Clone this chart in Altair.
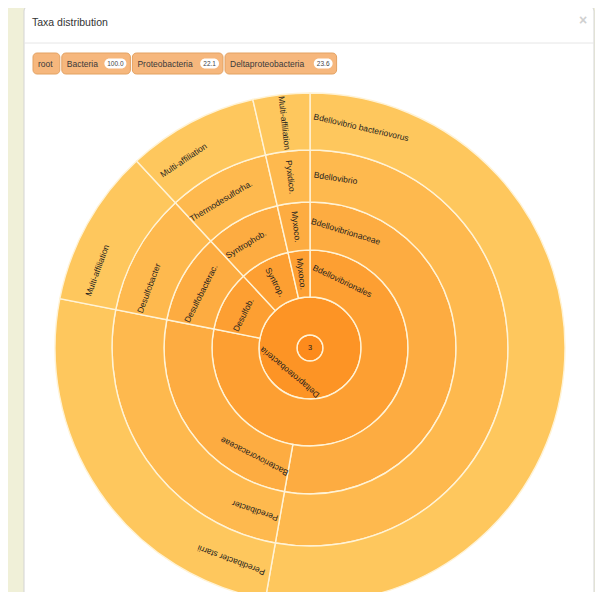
import math
import altair as alt
import pandas as pd

# ---------------- data ----------------
# share (%) of each leaf of the Deltaproteobacteria sub-tree
leaf_share = [52.8, 25.3, 10.0, 8.3, 3.6]
rank_class = ["Deltaproteobacteria"] * 5
rank_order = ["Bdellovibrionales", "Bdellovibrionales", "Desulfobacterales",
              "Syntrophobacterales", "Myxococcales"]
rank_family = ["Bdellovibrionaceae", "Bacteriovoracaceae", "Desulfobacteraceae",
               "Syntrophobacteraceae", "Myxococcaceae"]
rank_genus = ["Bdellovibrio", "Peredibacter", "Desulfobacter",
              "Thermodesulforhabdus", "Pyxidicoccus"]
rank_species = ["Bdellovibrio bacteriovorus", "Peredibacter starrii",
                "Multi-affiliation", "Multi-affiliation", "Multi-affiliation"]
short_names = {
    "Desulfobacterales": "Desulfob.",
    "Desulfobacteraceae": "Desulfobacterac.",
    "Syntrophobacterales": "Syntrop.",
    "Syntrophobacteraceae": "Syntrophob.",
    "Thermodesulforhabdus": "Thermodesulforha.",
    "Myxococcales": "Myxoco.",
    "Myxococcaceae": "Myxoco.",
    "Pyxidicoccus": "Pyxidico.",
}
center_label = "3"

crumb_names = ["root", "Bacteria", "Proteobacteria", "Deltaproteobacteria"]
crumb_badges = ["", "100.0", "22.1", "23.6"]

title_text = "Taxa distribution"

# ---------------- layout / style ----------------
RADII = [0, 13, 51, 98, 146, 198, 255]           # ring boundaries (px)
RING_COLORS = ["#fd8b1c", "#fd9425", "#fd9f32", "#fdac41", "#feb94e", "#fec75d"]
LABEL_FONT = "Liberation Sans, Arial, sans-serif"
UI_FONT = "Liberation Sans, Arial, sans-serif"
LABEL_SIZE = 8.5
CHAR_W = 3.8
PAD_PX = 3
FULL_RING_LABEL_START = 166

ranks = [rank_class, rank_order, rank_family, rank_genus, rank_species]
n = len(leaf_share)
total = sum(leaf_share)
cum = [0.0]
for v in leaf_share:
    cum.append(cum[-1] + v)


def rpx(idx):
    # pixel radius for a (possibly fractional) ring index in [-1, 5]
    k = idx + 1
    lo = int(math.floor(k))
    lo = min(max(lo, 0), len(RADII) - 2)
    f = k - lo
    return RADII[lo] + f * (RADII[lo + 1] - RADII[lo])


nodes = [dict(depth=0, name=center_label, start=0.0, end=360.0, r_in=-1, r_out=0)]
for d in range(1, len(ranks) + 1):
    i = 0
    while i < n:
        key = tuple(r[i] for r in ranks[:d])
        j = i
        while j + 1 < n and tuple(r[j + 1] for r in ranks[:d]) == key:
            j += 1
        nodes.append(dict(depth=d, name=ranks[d - 1][i],
                          start=cum[i] / total * 360, end=cum[j + 1] / total * 360,
                          r_in=d - 1, r_out=d))
        i = j + 1
nodes_df = pd.DataFrame(nodes)

labels = []
for nd in nodes:
    if nd["depth"] == 0:
        labels.append(dict(label=nd["name"], theta=0.0, r_lab=-1, angle=0.0, size=7.5))
        continue
    disp = short_names.get(nd["name"], nd["name"])
    r_mid = rpx(nd["depth"] - 0.5)
    thick = rpx(nd["depth"]) - rpx(nd["depth"] - 1)
    span = nd["end"] - nd["start"]
    arc_len = math.radians(span) * r_mid
    L = CHAR_W * len(disp)
    if arc_len < 0.9 * thick:
        th = (nd["start"] + nd["end"]) / 2
        ang = (th + 90) % 360
    else:
        st = nd["start"] if span < 359.9 else FULL_RING_LABEL_START
        th = st + math.degrees(PAD_PX / r_mid) + math.degrees(math.atan(L / 2 / r_mid))
        ang = th % 360
    labels.append(dict(label=disp, theta=th % 360, r_lab=nd["depth"] - 0.5, angle=ang,
                       size=LABEL_SIZE))
labels_df = pd.DataFrame(labels)

# breadcrumb geometry (view coordinates)
crumbs = []
x = 8.0
for name, badge in zip(crumb_names, crumb_badges):
    x0 = x
    tx = x + 5
    x = tx + 4.2 * len(name)
    if badge:
        bx0 = x + 4
        bx1 = bx0 + 6 + 3.2 * len(badge)
        x = bx1 + 4
    else:
        bx0 = bx1 = None
        x = x + 5
    crumbs.append(dict(name=name, badge=badge, x0=x0, x1=x, tx=tx,
                       bx0=bx0, bx1=bx1, bxm=(bx0 + bx1) / 2 if badge else None))
    x += 2
crumbs_df = pd.DataFrame(crumbs)
badges_df = crumbs_df[crumbs_df["badge"] != ""]

one = pd.DataFrame({"k": [0]})

# ---------------- chart ----------------
modal = alt.Chart(one).mark_rect(fill="white", stroke="#d4d4d4", strokeWidth=1,
                                 cornerRadius=5).encode(
    x=alt.value(-1), x2=alt.value(569), y=alt.value(-98), y2=alt.value(520))

sep = alt.Chart(one).mark_rule(color="#e6e6e6", strokeWidth=1).encode(
    x=alt.value(-1), x2=alt.value(569), y=alt.value(-61))

title = alt.Chart(one).mark_text(align="left", baseline="middle", font=UI_FONT,
                                 fontSize=10.5, color="#333333").encode(
    x=alt.value(7), y=alt.value(-81), text=alt.value(title_text))

close = alt.Chart(one).mark_text(align="center", baseline="middle", font=UI_FONT,
                                 fontSize=14, fontWeight="bold", color="#d0d0d0").encode(
    x=alt.value(558), y=alt.value(-83), text=alt.value("×"))

btn = alt.Chart(crumbs_df).mark_rect(fill="#f6b77d", stroke="#e3a263", strokeWidth=1,
                                     cornerRadius=4).encode(
    x=alt.X("x0:Q", scale=None, axis=None), x2="x1:Q",
    y=alt.value(-51), y2=alt.value(-30))

btn_text = alt.Chart(crumbs_df).mark_text(align="left", baseline="middle", font=UI_FONT,
                                          fontSize=8.5, color="#3a3a3a").encode(
    x=alt.X("tx:Q", scale=None, axis=None), y=alt.value(-40.5), text="name:N")

badge = alt.Chart(badges_df).mark_rect(fill="white", cornerRadius=5).encode(
    x=alt.X("bx0:Q", scale=None, axis=None), x2="bx1:Q",
    y=alt.value(-45.5), y2=alt.value(-35.5))

badge_text = alt.Chart(badges_df).mark_text(align="center", baseline="middle", font=UI_FONT,
                                            fontSize=6.5, color="#444444").encode(
    x=alt.X("bxm:Q", scale=None, axis=None), y=alt.value(-40.5), text="badge:N")

theta_scale = alt.Scale(domain=[0, 360], range=[0, 2 * math.pi])
radius_scale = alt.Scale(type="linear", domain=[-1, 0, 1, 2, 3, 4, 5], range=RADII, nice=False)

arcs = alt.Chart(nodes_df).mark_arc(stroke="#fff3d6", strokeWidth=1.4).encode(
    theta=alt.Theta("start:Q", scale=theta_scale, stack=False),
    theta2="end:Q",
    radius=alt.Radius("r_out:Q", scale=radius_scale),
    radius2="r_in:Q",
    color=alt.Color("depth:O", scale=alt.Scale(domain=[0, 1, 2, 3, 4, 5], range=RING_COLORS),
                    legend=None),
)

texts = alt.Chart(labels_df).mark_text(align="center", baseline="middle", font=LABEL_FONT,
                                       color="#1e1e1e").encode(
    theta=alt.Theta("theta:Q", scale=theta_scale, stack=False),
    radius=alt.Radius("r_lab:Q", scale=radius_scale),
    angle=alt.Angle("angle:Q", scale=None),
    size=alt.Size("size:Q", scale=None, legend=None),
    text="label:N",
)

chart = alt.layer(modal, sep, title, close, btn, btn_text, badge, badge_text, arcs, texts).properties(
    width=570, height=488,
    autosize=alt.AutoSizeParams(type="none"),
    padding={"left": 17, "top": 96, "right": 0, "bottom": 0},
).configure(background="#f0f0d8").configure_view(stroke=None)

chart.save("out.html", embed_options={"renderer": "svg", "actions": False})
